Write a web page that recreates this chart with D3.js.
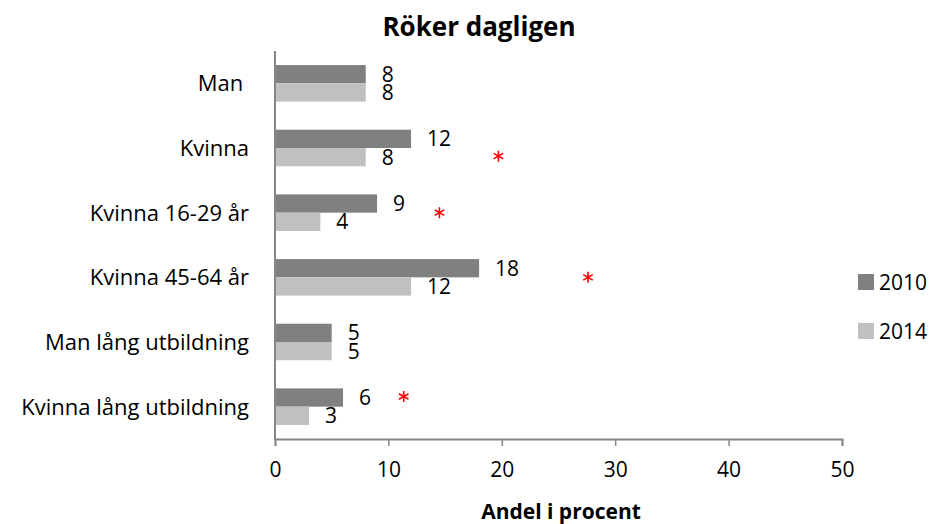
<!DOCTYPE html>
<html>
<head>
<meta charset="utf-8">
<script src="https://cdn.jsdelivr.net/npm/d3@7"></script>
<style>
  body { margin: 0; background: #fff; }
  svg { display: block; font-family: "Open Sans", sans-serif; }
</style>
</head>
<body>
<div id="chart"></div>
<script>
/***** data *****/
var categories = ["Man", "Kvinna", "Kvinna 16-29 år", "Kvinna 45-64 år", "Man lång utbildning", "Kvinna lång utbildning"];
var series = ["2010", "2014"];
var values2010 = [8, 12, 9, 18, 5, 6];
var values2014 = [8, 8, 4, 12, 5, 3];
var xTicks = [0, 10, 20, 30, 40, 50];

// red significance marks: category, where on the x axis, which bar row it sits beside
var starCats = ["Kvinna", "Kvinna 16-29 år", "Kvinna 45-64 år", "Kvinna lång utbildning"];
var starAt = [19.7, 14.5, 27.6, 11.35];
var starRow = ["2014", "mid", "mid", "2010"];

var colors = {"2010": "#808080", "2014": "#c0c0c0"};

/***** chart parameters *****/
var width = 934, height = 524;
var margin = {top: 51, left: 275, right: 92, bottom: 85};
var plotW = width - margin.left - margin.right;
var plotH = height - margin.top - margin.bottom;
var catSize = 22;   // category labels
var numSize = 21;   // numbers, legend

var svg = d3.select("#chart").append("svg")
  .attr("width", width)
  .attr("height", height);

var g = svg.append("g")
  .attr("transform", "translate(" + margin.left + "," + margin.top + ")");

//scales
var x = d3.scaleLinear().domain([0, 50]).range([0, plotW]);
var y0 = d3.scaleBand().domain(categories).range([0, plotH]);
var y1 = d3.scaleBand().domain(series)
  .range([0, y0.bandwidth()])
  .paddingOuter(0.77);

//rows of data
var rows = categories.map(function(c, i) {
  return {name: c, groups: [
    {key: "2010", value: values2010[i]},
    {key: "2014", value: values2014[i]}
  ]};
});

//bars
var group = g.selectAll(".grp")
  .data(rows)
  .enter().append("g")
  .attr("class", "grp")
  .attr("transform", function(d) { return "translate(0," + y0(d.name) + ")"; });

group.selectAll("rect")
  .data(function(d) { return d.groups; })
  .enter().append("rect")
  .attr("x", 0)
  .attr("y", function(d) { return y1(d.key); })
  .attr("width", function(d) { return x(d.value); })
  .attr("height", y1.bandwidth())
  .attr("fill", function(d) { return colors[d.key]; });

//value labels
group.selectAll("text.val")
  .data(function(d) { return d.groups; })
  .enter().append("text")
  .attr("class", "val")
  .attr("x", function(d) { return x(d.value) + 16; })
  .attr("y", function(d) { return y1(d.key) + y1.bandwidth() / 2; })
  .attr("dy", "0.36em")
  .attr("font-size", numSize)
  .attr("fill", "#000")
  .text(function(d) { return d.value; });

//asterisks
var star = d3.symbol().type(d3.symbolAsterisk).size(85);
g.selectAll(".star")
  .data(starCats)
  .enter().append("path")
  .attr("class", "star")
  .attr("d", star)
  .attr("fill", "none")
  .attr("stroke", "#ff0000")
  .attr("stroke-width", 1.6)
  .attr("transform", function(d, i) {
    var cy = y0(d) + y0.bandwidth() / 2;
    if (starRow[i] !== "mid") cy = y0(d) + y1(starRow[i]) + y1.bandwidth() / 2 - 1;
    return "translate(" + x(starAt[i]) + "," + cy + ")";
  });

//category labels
g.selectAll(".cat")
  .data(categories)
  .enter().append("text")
  .attr("class", "cat")
  .attr("x", -26)
  .attr("y", function(d) { return y0(d) + y0.bandwidth() / 2; })
  .attr("dy", "0.36em")
  .attr("text-anchor", "end")
  .attr("font-size", catSize)
  .text(function(d) { return d === "Man" ? "Man\u00a0" : d; });

//axes
var xAxis = d3.axisBottom(x)
  .tickValues(xTicks)
  .tickSizeInner(7)
  .tickSizeOuter(7)
  .tickPadding(16);

var xg = g.append("g")
  .attr("transform", "translate(0," + plotH + ")")
  .call(xAxis);
xg.select(".domain").attr("stroke", "#868686").attr("stroke-width", 2);
xg.selectAll(".tick line").attr("stroke", "#868686").attr("stroke-width", 1.5);
xg.selectAll(".tick text")
  .attr("font-family", "'Open Sans', sans-serif")
  .attr("font-size", numSize)
  .attr("fill", "#000");

g.append("line")
  .attr("x1", 0).attr("x2", 0)
  .attr("y1", 0).attr("y2", plotH)
  .attr("stroke", "#868686")
  .attr("stroke-width", 2);

//titles
svg.append("text")
  .attr("x", 479)
  .attr("y", 36)
  .attr("text-anchor", "middle")
  .attr("font-size", 26)
  .attr("font-weight", "bold")
  .text("Röker dagligen");

svg.append("text")
  .attr("x", 561)
  .attr("y", 519)
  .attr("text-anchor", "middle")
  .attr("font-size", 21)
  .attr("font-weight", "bold")
  .text("Andel i procent");

//legend
var legend = svg.selectAll(".leg")
  .data(series)
  .enter().append("g")
  .attr("class", "leg")
  .attr("transform", function(d, i) { return "translate(858," + (282 + i * 49) + ")"; });

legend.append("rect")
  .attr("x", 0).attr("y", -8)
  .attr("width", 16).attr("height", 16)
  .attr("fill", function(d) { return colors[d]; });

legend.append("text")
  .attr("x", 21)
  .attr("dy", "0.36em")
  .attr("font-size", numSize)
  .text(function(d) { return d; });
</script>
</body>
</html>
